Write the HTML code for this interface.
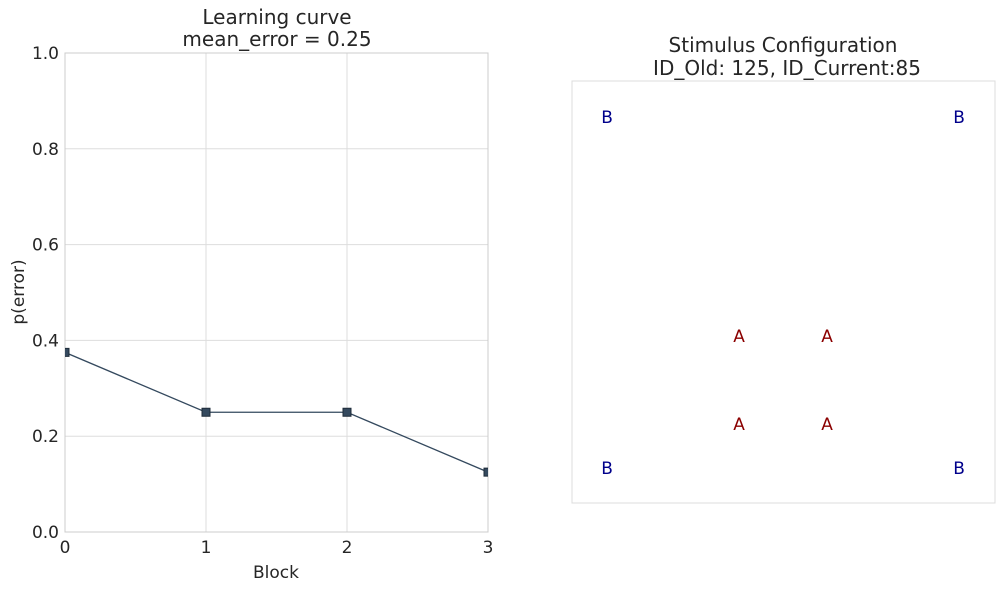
<!DOCTYPE html>
<html><head><meta charset="utf-8"><style>
body{margin:0;background:#fff;font-family:"Liberation Sans","DejaVu Sans",sans-serif;}
svg text{font-family:"DejaVu Sans","Liberation Sans",sans-serif;fill:#262626;}
</style></head><body>
<svg id="c" width="1004" height="591" xmlns="http://www.w3.org/2000/svg">
<defs><clipPath id="clipL"><rect x="65" y="53" width="423" height="479"/></clipPath></defs>
<text x="277" y="24" font-size="20" text-anchor="middle">Learning curve</text>
<text x="277" y="46" font-size="20" text-anchor="middle">mean_error = 0.25</text>
<text x="783" y="52" font-size="20" text-anchor="middle">Stimulus Configuration</text>
<text x="787" y="75" font-size="20" text-anchor="middle">ID_Old: 125, ID_Current:85</text>
<g id="grid"></g>
<rect x="65" y="53" width="423" height="479" fill="none" stroke="#cccccc"/>
<g id="line" clip-path="url(#clipL)"></g>
<text x="276" y="578" font-size="17" text-anchor="middle">Block</text>
<text transform="translate(24,292) rotate(-90)" font-size="17" text-anchor="middle">p(error)</text>
<rect x="572" y="81" width="423" height="422" fill="none" stroke="#dcdcdc"/>
<g id="stim"></g>
</svg>
<script>
const blocks=[0,1,2,3];
const errors=[0.375,0.25,0.25,0.125];
const yTicks=[0,0.2,0.4,0.6,0.8,1.0];
const yTickLabels=["0.0","0.2","0.4","0.6","0.8","1.0"];
const xTickLabels=["0","1","2","3"];
const stimLetters=["B","B","B","B","A","A","A","A"];
const stimX=[0.083,0.915,0.083,0.915,0.395,0.603,0.395,0.603];
const stimY=[0.915,0.915,0.083,0.083,0.396,0.396,0.187,0.187];

const NS="http://www.w3.org/2000/svg";
const xs=v=>65+v*(423/3);
const ys=v=>532-v*479;
const grid=document.getElementById('grid');
function mk(tag,attrs,parent){const e=document.createElementNS(NS,tag);for(const k in attrs)e.setAttribute(k,attrs[k]);parent.appendChild(e);return e;}
yTicks.forEach((t,i)=>{
 const l=mk('line',{x1:65,x2:488,y1:ys(t),y2:ys(t),stroke:'#dddddd'},grid);
 
 
 const tx=mk('text',{x:59,y:ys(t)+6,'font-size':17,'text-anchor':'end'},grid);tx.textContent=yTickLabels[i];
 
 
});
blocks.forEach((b,i)=>{
 const l=mk('line',{x1:xs(b),x2:xs(b),y1:53,y2:532,stroke:'#dddddd'},grid);
 
 
 const tx=mk('text',{x:xs(b),y:553,'font-size':17,'text-anchor':'middle'},grid);tx.textContent=xTickLabels[i];
 
 
});
const g=document.getElementById('line');
const pl=mk('polyline',{points:blocks.map((b,i)=>xs(b)+','+ys(errors[i])).join(' '),fill:'none',stroke:'#34495e','stroke-width':1.3},g);


blocks.forEach((b,i)=>{
 const r=mk('rect',{x:xs(b)-4,y:ys(errors[i])-4,width:8,height:8,fill:'#34495e',stroke:'#1e2b38','stroke-width':1},g);
 
 
});
const s=document.getElementById('stim');
const sx=v=>572+v*423, sy=v=>503-v*422;
stimLetters.forEach((L,i)=>{
 const t=mk('text',{x:sx(stimX[i]),y:sy(stimY[i])+6,'font-size':17,'text-anchor':'middle',style:'fill:'+(L==='B'?'#00008b':'#8b0000')},s);
 t.textContent=L;
 
 
});
</script>
</body></html>
